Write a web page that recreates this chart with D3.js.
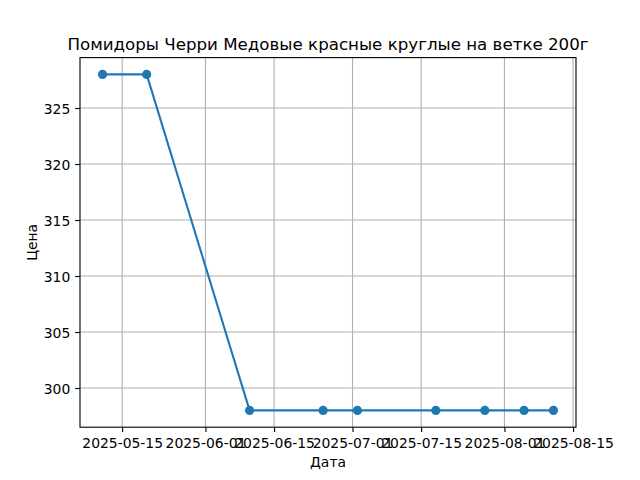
<!DOCTYPE html>
<html>
<head>
<meta charset="utf-8">
<script src="https://cdn.jsdelivr.net/npm/d3@7"></script>
<style>
  html, body { margin: 0; padding: 0; background: #fff; }
  svg { display: block; font-family: "DejaVu Sans", sans-serif; }
</style>
</head>
<body>
<svg id="chart" width="640" height="480"></svg>
<script>
const dates = ["2025-05-11", "2025-05-20", "2025-06-10", "2025-06-25", "2025-07-02", "2025-07-18", "2025-07-28", "2025-08-05", "2025-08-11"];
const prices = [328, 328, 298, 298, 298, 298, 298, 298, 298];
const xTickLabels = ["2025-05-15", "2025-06-01", "2025-06-15", "2025-07-01", "2025-07-15", "2025-08-01", "2025-08-15"];
const yTicks = [300, 305, 310, 315, 320, 325];
const title = "Помидоры Черри Медовые красные круглые на ветке 200г";
const xLabel = "Дата";
const yLabel = "Цена";

const W = 640, H = 480;
const L = 80, R = 576, T = 57.6, B = 427.2;
const parse = d3.utcParse("%Y-%m-%d");
const data = dates.map((d, i) => ({ date: parse(d), price: prices[i] }));

const xExt = d3.extent(data, d => d.date);
const xPad = (xExt[1] - xExt[0]) * 0.05;
const x = d3.scaleUtc().domain([new Date(+xExt[0] - xPad), new Date(+xExt[1] + xPad)]).range([L, R]);
const yExt = d3.extent(prices);
const yPad = (yExt[1] - yExt[0]) * 0.05;
const y = d3.scaleLinear().domain([yExt[0] - yPad, yExt[1] + yPad]).range([B, T]);

const svg = d3.select("#chart");
const fs = 13.9;
const tickLen = 4.86;
const lw = 1.11;
const xTickVals = xTickLabels.map(parse);

// grid
const grid = svg.append("g");
grid.selectAll("line.gx").data(xTickVals).join("line")
  .attr("x1", d => x(d)).attr("x2", d => x(d)).attr("y1", T).attr("y2", B)
  .attr("stroke", "#b0b0b0").attr("stroke-width", lw);
grid.selectAll("line.gy").data(yTicks).join("line")
  .attr("x1", L).attr("x2", R).attr("y1", d => y(d)).attr("y2", d => y(d))
  .attr("stroke", "#b0b0b0").attr("stroke-width", lw);

// line
const line = d3.line().x(d => x(d.date)).y(d => y(d.price));
svg.append("path").datum(data).attr("d", line)
  .attr("fill", "none").attr("stroke", "#1f77b4").attr("stroke-width", 2.08)
  .attr("stroke-linejoin", "round").attr("stroke-linecap", "square");
svg.append("g").selectAll("circle").data(data).join("circle")
  .attr("cx", d => x(d.date)).attr("cy", d => y(d.price)).attr("r", 4.6)
  .attr("fill", "#1f77b4");

// axes
const xAxis = d3.axisBottom(x).tickValues(xTickVals).tickFormat(d3.utcFormat("%Y-%m-%d"))
  .tickSize(tickLen).tickPadding(4.86);
const gx = svg.append("g").attr("transform", `translate(0,${B})`).call(xAxis);
gx.select(".domain").remove();
gx.selectAll(".tick line").attr("stroke", "#000").attr("stroke-width", lw);
gx.selectAll(".tick text").attr("fill", "#000").attr("font-size", fs)
  .attr("font-family", "DejaVu Sans").attr("dy", null).attr("y", 20.5);

const yAxis = d3.axisLeft(y).tickValues(yTicks).tickFormat(d3.format("d"))
  .tickSize(tickLen).tickPadding(4.86);
const gy = svg.append("g").attr("transform", `translate(${L},0)`).call(yAxis);
gy.select(".domain").remove();
gy.selectAll(".tick line").attr("stroke", "#000").attr("stroke-width", lw);
gy.selectAll(".tick text").attr("fill", "#000").attr("font-size", fs)
  .attr("font-family", "DejaVu Sans").attr("dy", "0.36em");

// spines
svg.append("rect").attr("x", L).attr("y", T).attr("width", R - L).attr("height", B - T)
  .attr("fill", "none").attr("stroke", "#000").attr("stroke-width", lw);

// labels
svg.append("text").attr("x", (L + R) / 2).attr("y", 49.5).attr("text-anchor", "middle")
  .attr("font-size", 16.67).attr("fill", "#000").text(title);
svg.append("text").attr("x", (L + R) / 2).attr("y", 466.5).attr("text-anchor", "middle")
  .attr("font-size", fs).attr("fill", "#000").text(xLabel);
svg.append("text").attr("transform", `translate(37,${(T + B) / 2}) rotate(-90)`)
  .attr("text-anchor", "middle").attr("font-size", fs).attr("fill", "#000").text(yLabel);
</script>
</body>
</html>
